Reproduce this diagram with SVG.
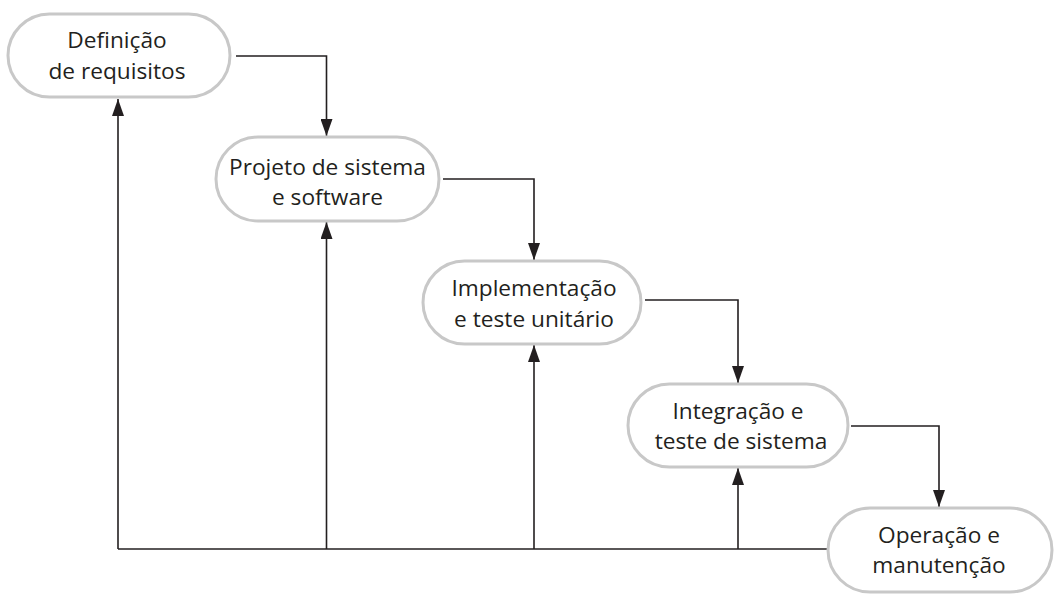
<svg xmlns="http://www.w3.org/2000/svg" width="1056" height="599" viewBox="0 0 1056 599">
<defs>
<style>
.node rect{fill:#fff;stroke:#c8c8c8;stroke-width:3}
.node text{font-family:"Open Sans","Noto Sans",sans-serif;font-size:22.7px;fill:#231f20;text-anchor:middle}
.conn path{fill:none;stroke:#231f20;stroke-width:1.6}
.conn path.arr{marker-end:url(#ah)}
</style>
<marker id="ah" markerUnits="userSpaceOnUse" markerWidth="18" markerHeight="12" viewBox="0 0 18 12" refX="17" refY="6" orient="auto">
<path d="M0,0 L17,6 L0,12 Z" fill="#231f20"/>
</marker>
</defs>
<rect width="1056" height="599" fill="#fff"/>
<g id="connectors" class="conn">
<path class="arr" d="M236,56 H326.5 V136"/>
<path class="arr" d="M443,179 H534 V260"/>
<path class="arr" d="M645,300 H738 V383"/>
<path class="arr" d="M851,426 H939 V507"/>
<path d="M827,549 H118"/>
<path class="arr" d="M118,549 V99"/>
<path class="arr" d="M326.5,549 V222"/>
<path class="arr" d="M534,549 V345"/>
<path class="arr" d="M738,549 V468"/>
</g>
<g id="n1" class="node">
<rect x="8" y="14" width="222" height="83" rx="41.5"/>
<text x="117" y="48">Definição</text>
<text x="117" y="79">de requisitos</text>
</g>
<g id="n2" class="node">
<rect x="216" y="137" width="223" height="84" rx="42"/>
<text x="327.5" y="175">Projeto de sistema</text>
<text x="327.5" y="205">e software</text>
</g>
<g id="n3" class="node">
<rect x="423" y="261" width="218" height="83" rx="41.5"/>
<text x="534" y="296">Implementação</text>
<text x="534" y="327">e teste unitário</text>
</g>
<g id="n4" class="node">
<rect x="628" y="384" width="220" height="83" rx="41.5"/>
<text x="738" y="419">Integração e</text>
<text x="741" y="449">teste de sistema</text>
</g>
<g id="n5" class="node">
<rect x="828" y="508" width="224" height="84" rx="42"/>
<text x="939" y="543">Operação e</text>
<text x="939" y="573">manutenção</text>
</g>
</svg>
